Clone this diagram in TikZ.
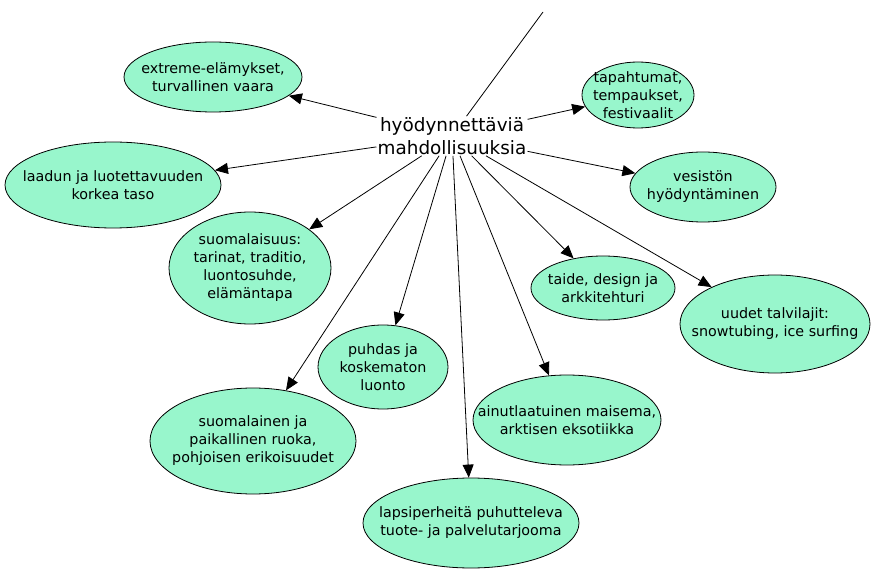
\documentclass[tikz,border=0pt]{standalone}
\usepackage{fontspec}
\setmainfont{DejaVu Sans}
\usetikzlibrary{shapes.geometric,arrows.meta}
\definecolor{mint}{RGB}{152,246,204}
\begin{document}
\begin{tikzpicture}[x=1pt,y=-1pt,
  idea/.style 2 args={ellipse,draw=black,line width=0.8pt,fill=mint,inner sep=0pt,
    minimum width=#1,minimum height=#2},
  words/.style={align=center,inner sep=0pt,font=\fontsize{14.3}{18}\selectfont},
  link/.style={line width=0.8pt,-{Triangle[length=13pt,width=11pt]}}]
\useasboundingbox (0,0) rectangle (873,569);

% central concept
\node[font=\fontsize{18.4}{23}\selectfont,align=center,inner sep=1pt] (hub) at (452,136)
  {hyödynnettäviä\\mahdollisuuksia};
\coordinate (up) at (543,12);

% surrounding ideas: the ellipse is sized by hand, its text sits at the centre
\node[idea={178pt}{70pt},label={[words]center:extreme-elämykset,\\turvallinen vaara}]
  (extreme) at (213,77) {};
\node[idea={112pt}{66pt},label={[words]center:tapahtumat,\\tempaukset,\\festivaalit}]
  (events) at (638,95) {};
\node[idea={216pt}{86pt},label={[words]center:laadun ja luotettavuuden\\korkea taso}]
  (quality) at (113,185) {};
\node[idea={146pt}{70pt},label={[words]center:vesistön\\hyödyntäminen}]
  (water) at (703,187) {};
\node[idea={162pt}{112pt},label={[words]center:suomalaisuus:\\tarinat, traditio,\\luontosuhde,\\elämäntapa}]
  (finnish) at (250,268) {};
\node[idea={144pt}{64pt},label={[words]center:taide, design ja\\arkkitehturi}]
  (art) at (603,288) {};
\node[idea={190pt}{98pt},label={[words]center:uudet talvilajit:\\snowtubing, ice surfing}]
  (winter) at (775,324) {};
\node[idea={130pt}{84pt},label={[words]center:puhdas ja\\koskematon\\luonto}]
  (nature) at (383,367) {};
\node[idea={188pt}{90pt},label={[words]center:ainutlaatuinen maisema,\\arktisen eksotiikka}]
  (scenery) at (567,420) {};
\node[idea={206pt}{106pt},label={[words]center:suomalainen ja\\paikallinen ruoka,\\pohjoisen erikoisuudet}]
  (food) at (253,441) {};
\node[idea={216pt}{90pt},label={[words]center:lapsiperheitä puhutteleva\\tuote- ja palvelutarjooma}]
  (family) at (471,523) {};

% connectors
\draw[line width=0.8pt] (hub) -- (up);
\foreach \t in {extreme,events,quality,water,finnish,art,winter,nature,scenery,food,family}
  \draw[link] (hub) -- (\t);
\end{tikzpicture}
\end{document}
